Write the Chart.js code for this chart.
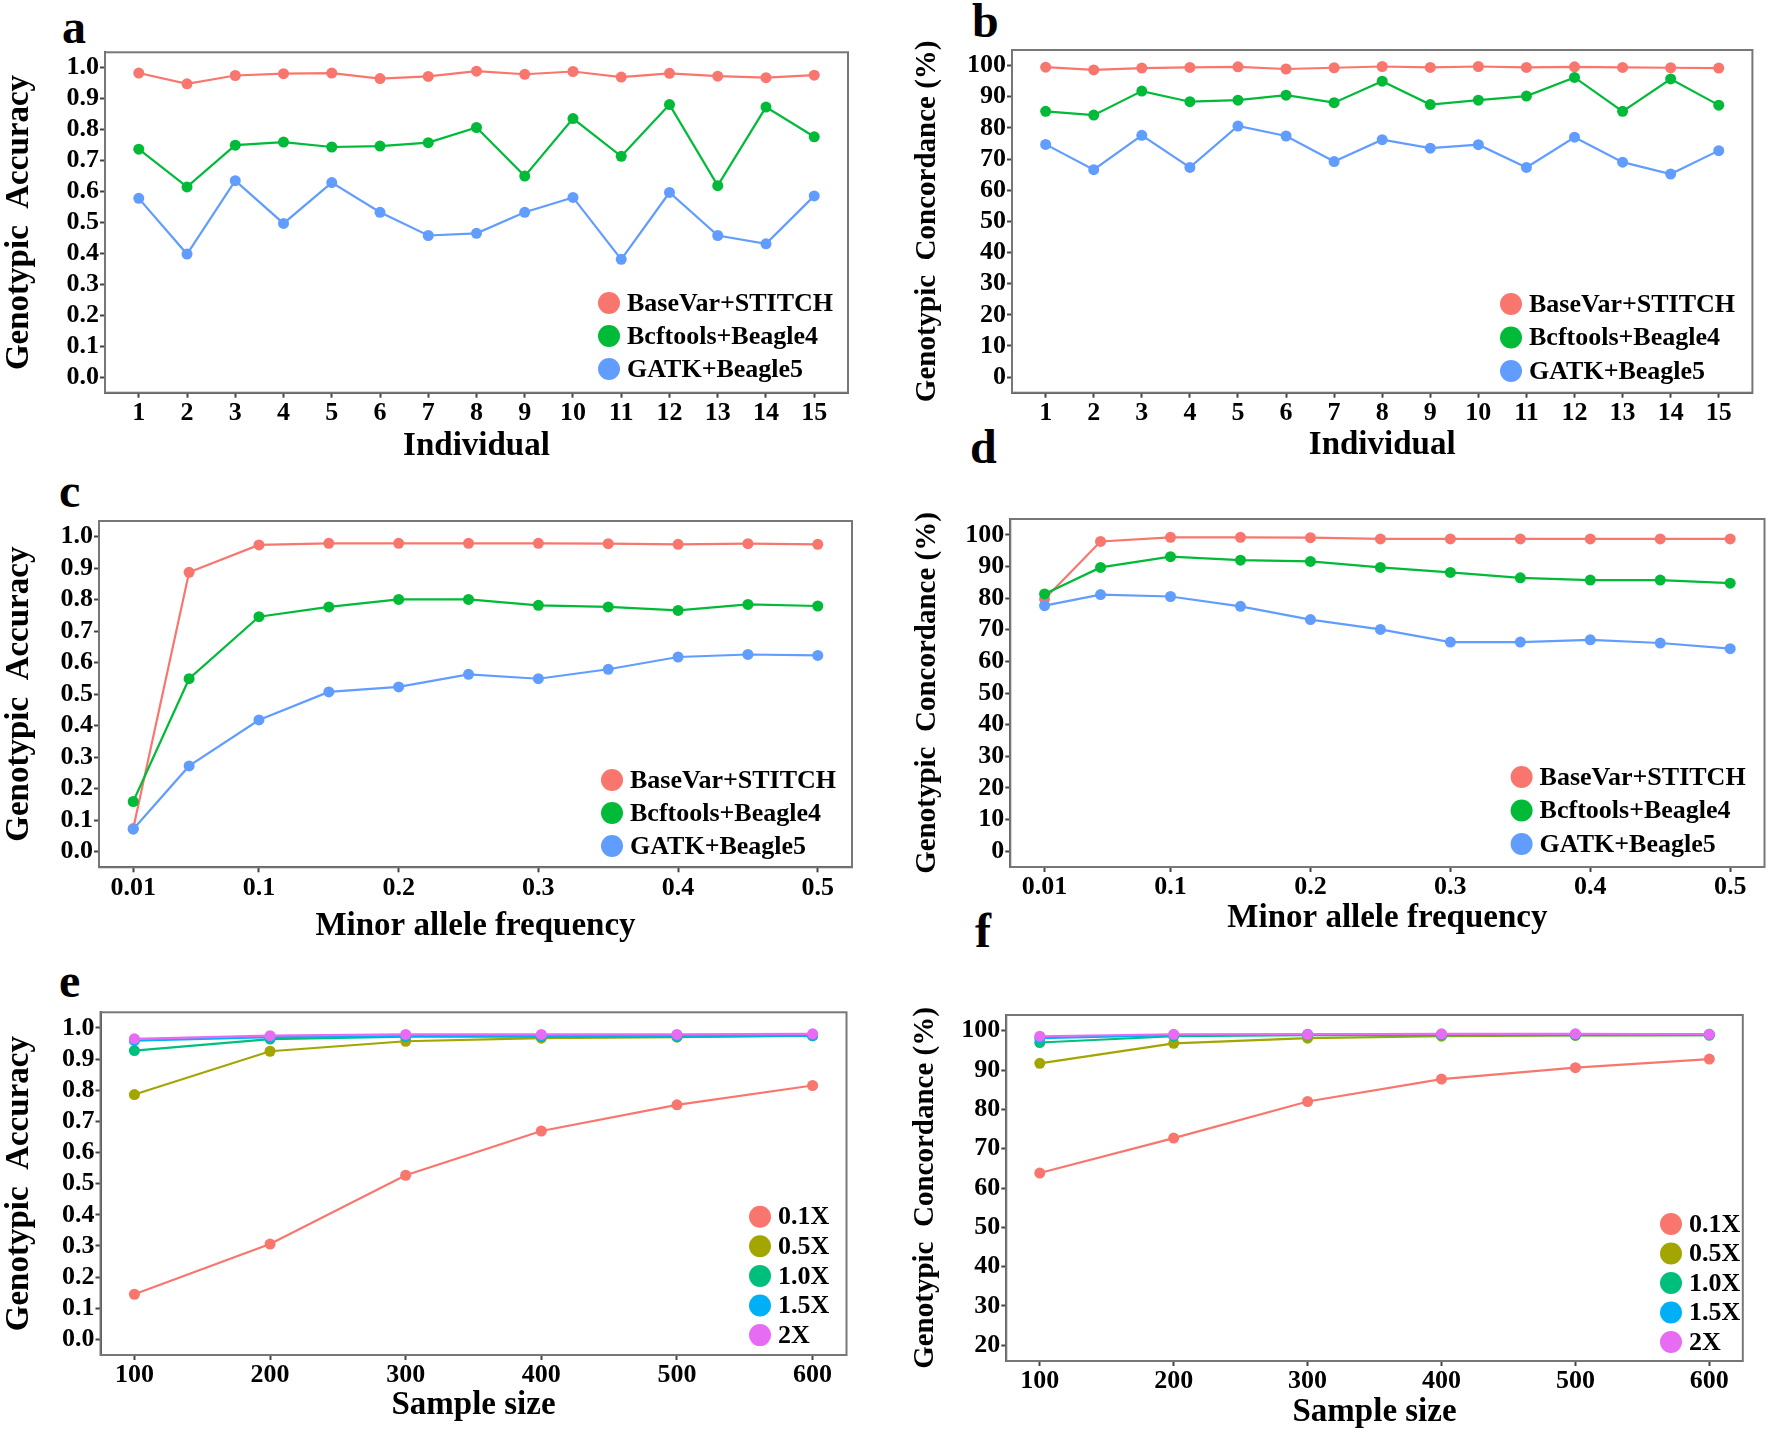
<!DOCTYPE html>
<html>
<head>
<meta charset="utf-8">
<script src="https://cdn.jsdelivr.net/npm/chart.js@4.4.1/dist/chart.umd.min.js"></script>
<style>
body { margin: 0; background: #fff; width: 1770px; height: 1432px; position: relative; overflow: hidden; }
canvas { position: absolute; }
.lbl { position: absolute; font: bold 48px "Liberation Serif", "Times New Roman", serif; line-height: 1; color: #000; }
</style>
</head>
<body>
<div class="lbl" style="left:62px;top:3px">a</div>
<div class="lbl" style="left:972px;top:-3px">b</div>
<div class="lbl" style="left:59px;top:467px">c</div>
<div class="lbl" style="left:970px;top:423px">d</div>
<div class="lbl" style="left:59px;top:957px">e</div>
<div class="lbl" style="left:975px;top:907px">f</div>

<canvas id="pa" width="870" height="470" style="left:0;top:0"></canvas>
<canvas id="pb" width="885" height="470" style="left:885px;top:0"></canvas>
<canvas id="pc" width="870" height="480" style="left:0;top:470px"></canvas>
<canvas id="pd" width="885" height="470" style="left:885px;top:470px"></canvas>
<canvas id="pe" width="870" height="482" style="left:0;top:950px"></canvas>
<canvas id="pf" width="885" height="482" style="left:885px;top:950px"></canvas>

<script>
// categories / ticks
var individuals = [1, 2, 3, 4, 5, 6, 7, 8, 9, 10, 11, 12, 13, 14, 15];
var mafLevels = [0.01, 0.05, 0.1, 0.15, 0.2, 0.25, 0.3, 0.35, 0.4, 0.45, 0.5];
var mafTicks = [0.01, 0.1, 0.2, 0.3, 0.4, 0.5];
var sampleSizes = [100, 200, 300, 400, 500, 600];
var accTicks = [0, 0.1, 0.2, 0.3, 0.4, 0.5, 0.6, 0.7, 0.8, 0.9, 1.0];
var concTicks = [0, 10, 20, 30, 40, 50, 60, 70, 80, 90, 100];
var concTicksSize = [20, 30, 40, 50, 60, 70, 80, 90, 100];
var methods = ['BaseVar+STITCH', 'Bcftools+Beagle4', 'GATK+Beagle5'];
var depths = ['0.1X', '0.5X', '1.0X', '1.5X', '2X'];

var methodColors = ['#F8766D', '#00BA38', '#619CFF'];
var depthColors = ['#F8766D', '#A3A500', '#00BF7D', '#00B0F6', '#E76BF3'];

// a: genotypic accuracy per individual
var accIndBaseVar = [0.983, 0.948, 0.975, 0.981, 0.983, 0.965, 0.972, 0.989, 0.979, 0.988, 0.970, 0.982, 0.973, 0.968, 0.976];
var accIndBcftools = [0.737, 0.615, 0.750, 0.760, 0.744, 0.747, 0.758, 0.807, 0.650, 0.836, 0.714, 0.881, 0.619, 0.873, 0.777];
var accIndGatk = [0.578, 0.398, 0.635, 0.497, 0.629, 0.533, 0.458, 0.465, 0.533, 0.581, 0.381, 0.597, 0.458, 0.431, 0.586];

// b: genotypic concordance per individual
var concIndBaseVar = [99.5, 98.6, 99.2, 99.4, 99.6, 98.9, 99.3, 99.7, 99.4, 99.7, 99.4, 99.6, 99.4, 99.3, 99.2];
var concIndBcftools = [85.3, 84.1, 91.8, 88.4, 88.9, 90.5, 88.1, 95.0, 87.5, 88.9, 90.2, 96.2, 85.3, 95.7, 87.3];
var concIndGatk = [74.7, 66.6, 77.6, 67.3, 80.6, 77.4, 69.2, 76.2, 73.5, 74.6, 67.3, 77.0, 69.0, 65.2, 72.7];

// c: accuracy by minor allele frequency
var accMafBaseVar = [0.073, 0.887, 0.974, 0.979, 0.979, 0.979, 0.979, 0.978, 0.976, 0.978, 0.976];
var accMafBcftools = [0.159, 0.549, 0.746, 0.777, 0.801, 0.801, 0.782, 0.777, 0.766, 0.785, 0.780];
var accMafGatk = [0.071, 0.272, 0.418, 0.507, 0.523, 0.563, 0.549, 0.579, 0.618, 0.626, 0.623];

// d: concordance by minor allele frequency
var concMafBaseVar = [79.7, 97.9, 99.2, 99.2, 99.1, 98.7, 98.7, 98.7, 98.7, 98.7, 98.7];
var concMafBcftools = [81.3, 89.7, 93.1, 92.0, 91.6, 89.7, 88.1, 86.4, 85.7, 85.7, 84.7];
var concMafGatk = [77.6, 81.1, 80.5, 77.4, 73.2, 70.1, 66.1, 66.1, 66.8, 65.8, 64.0];

// e: accuracy by sample size and depth
var accSize01 = [0.145, 0.306, 0.527, 0.669, 0.753, 0.815];
var accSize05 = [0.786, 0.925, 0.957, 0.967, 0.970, 0.975];
var accSize10 = [0.927, 0.964, 0.972, 0.972, 0.972, 0.975];
var accSize15 = [0.959, 0.970, 0.974, 0.974, 0.975, 0.975];
var accSize20 = [0.965, 0.975, 0.979, 0.979, 0.979, 0.981];

// f: concordance by sample size and depth
var concSize01 = [63.8, 72.7, 82.0, 87.7, 90.6, 92.8];
var concSize05 = [91.7, 96.8, 98.1, 98.6, 98.8, 98.9];
var concSize10 = [97.0, 98.6, 98.9, 98.9, 98.9, 98.9];
var concSize15 = [98.1, 98.9, 99.1, 99.1, 99.1, 99.1];
var concSize20 = [98.6, 99.1, 99.1, 99.2, 99.2, 99.1];

var serif = '"Liberation Serif", "Times New Roman", serif';
Chart.defaults.font.family = serif;
Chart.defaults.font.weight = 'bold';
Chart.defaults.color = '#000';

// legend drawn inside the plot area, like ggplot's
var innerLegend = {
    id: 'innerLegend',
    afterDraw: function(chart, args, o) {
        var ctx = chart.ctx;
        ctx.save();
        ctx.font = 'bold 26px ' + serif;
        ctx.textBaseline = 'middle';
        chart.data.datasets.forEach(function(ds, i) {
            var y = o.y + i * o.gap;
            ctx.fillStyle = ds.borderColor;
            ctx.beginPath();
            ctx.arc(o.x, y, 11, 0, Math.PI * 2);
            ctx.fill();
            ctx.fillStyle = '#000';
            ctx.fillText(ds.label, o.x + 18, y + 1);
        });
        ctx.restore();
    }
};

// box around the panel
var frame = {
    id: 'frame',
    beforeDatasetsDraw: function(chart) {
        var a = chart.chartArea, ctx = chart.ctx;
        ctx.save();
        ctx.strokeStyle = '#777';
        ctx.lineWidth = 2;
        ctx.strokeRect(a.left, a.top, a.right - a.left, a.bottom - a.top);
        ctx.restore();
    }
};

function series(xs, names, colors, values) {
    return values.map(function(v, i) {
        return {
            label: names[i],
            data: xs.map(function(x, j) { return {x: x, y: v[j]}; }),
            borderColor: colors[i],
            backgroundColor: colors[i],
            borderWidth: 2.2,
            pointRadius: 5.5,
            pointBorderWidth: 0,
            tension: 0,
            order: -i
        };
    });
}

function axis(min, max, ticks, fmt, title, titleSize, titlePad, fitSize, isX) {
    return {
        type: 'linear',
        min: min,
        max: max,
        afterBuildTicks: function(s) { s.ticks = ticks.map(function(v) { return {value: v}; }); },
        afterFit: function(s) { if (isX) { s.height = fitSize; } else { s.width = fitSize; } },
        grid: { drawOnChartArea: false, drawTicks: true, tickLength: 5, tickColor: '#444', tickWidth: 2 },
        border: { display: true, color: '#444', width: 2 },
        ticks: { autoSkip: false, maxRotation: 0, padding: isX ? 0 : 1, font: { size: 26, weight: 'bold' }, color: '#000', callback: fmt },
        title: { display: true, text: title, color: '#000', font: { size: titleSize, weight: 'bold' }, padding: isX ? {top: 0, bottom: titlePad} : {top: titlePad, bottom: 0} }
    };
}

function fmtAcc(v) { return Number(v).toFixed(1); }
function fmtPlain(v) { return String(v); }

function panel(id, datasets, p) {
    var ctx = document.getElementById(id).getContext('2d');
    return new Chart(ctx, {
        type: 'line',
        data: { datasets: datasets },
        plugins: [frame, innerLegend],
        options: {
            responsive: false,
            animation: false,
            layout: { padding: { top: p.top, right: p.right, left: 0, bottom: 0 } },
            scales: {
                x: axis(p.xmin, p.xmax, p.xticks, fmtPlain, p.xtitle, 33, p.xpad, p.xh, true),
                y: axis(p.ymin, p.ymax, p.yticks, p.yfmt, p.ytitle, p.ysize, p.ypad, p.yw, false)
            },
            plugins: {
                legend: { display: false },
                tooltip: { enabled: false },
                innerLegend: { x: p.lx, y: p.ly, gap: p.lgap }
            }
        }
    });
}

window.onload = function() {
    panel('pa', series(individuals, methods, methodColors, [accIndBaseVar, accIndBcftools, accIndGatk]), {
        top: 52.3, right: 22, yw: 105, xh: 77.3,
        xmin: 0.3, xmax: 15.7, xticks: individuals, xtitle: 'Individual', xpad: 4,
        ymin: -0.05, ymax: 1.05, yticks: accTicks, yfmt: fmtAcc, ytitle: 'Genotypic  Accuracy', ysize: 33, ypad: 0,
        lx: 609, ly: 303, lgap: 33
    });
    panel('pb', series(individuals, methods, methodColors, [concIndBaseVar, concIndBcftools, concIndGatk]), {
        top: 50, right: 17.6, yw: 127, xh: 77.3,
        xmin: 0.3, xmax: 15.7, xticks: individuals, xtitle: 'Individual', xpad: 5,
        ymin: -5, ymax: 105, yticks: concTicks, yfmt: fmtPlain, ytitle: 'Genotypic  Concordance (%)', ysize: 29, ypad: 25,
        lx: 626, ly: 304, lgap: 33.5
    });
    panel('pc', series(mafLevels, methods, methodColors, [accMafBaseVar, accMafBcftools, accMafGatk]), {
        top: 51, right: 18, yw: 99, xh: 82.7,
        xmin: -0.0145, xmax: 0.5245, xticks: mafTicks, xtitle: 'Minor allele frequency', xpad: 4,
        ymin: -0.05, ymax: 1.05, yticks: accTicks, yfmt: fmtAcc, ytitle: 'Genotypic  Accuracy', ysize: 33, ypad: 0,
        lx: 612, ly: 310, lgap: 33
    });
    panel('pd', series(mafLevels, methods, methodColors, [concMafBaseVar, concMafBcftools, concMafGatk]), {
        top: 49, right: 5, yw: 125.3, xh: 73,
        xmin: -0.0145, xmax: 0.5245, xticks: mafTicks, xtitle: 'Minor allele frequency', xpad: 2,
        ymin: -5, ymax: 105, yticks: concTicks, yfmt: fmtPlain, ytitle: 'Genotypic  Concordance (%)', ysize: 29, ypad: 25,
        lx: 636.6, ly: 307, lgap: 33.5
    });
    panel('pe', series(sampleSizes, depths, depthColors, [accSize01, accSize05, accSize10, accSize15, accSize20]), {
        top: 62.3, right: 23.5, yw: 100.5, xh: 77,
        xmin: 75, xmax: 625, xticks: sampleSizes, xtitle: 'Sample size', xpad: 7,
        ymin: -0.05, ymax: 1.05, yticks: accTicks, yfmt: fmtAcc, ytitle: 'Genotypic  Accuracy', ysize: 33, ypad: 0,
        lx: 760, ly: 266.7, lgap: 29.6
    });
    panel('pf', series(sampleSizes, depths, depthColors, [concSize01, concSize05, concSize10, concSize15, concSize20]), {
        top: 65, right: 27.2, yw: 121.3, xh: 71,
        xmin: 75, xmax: 625, xticks: sampleSizes, xtitle: 'Sample size', xpad: 0,
        ymin: 16, ymax: 104, yticks: concTicksSize, yfmt: fmtPlain, ytitle: 'Genotypic  Concordance (%)', ysize: 29, ypad: 23,
        lx: 786, ly: 274, lgap: 29.5
    });
};
</script>
</body>
</html>
